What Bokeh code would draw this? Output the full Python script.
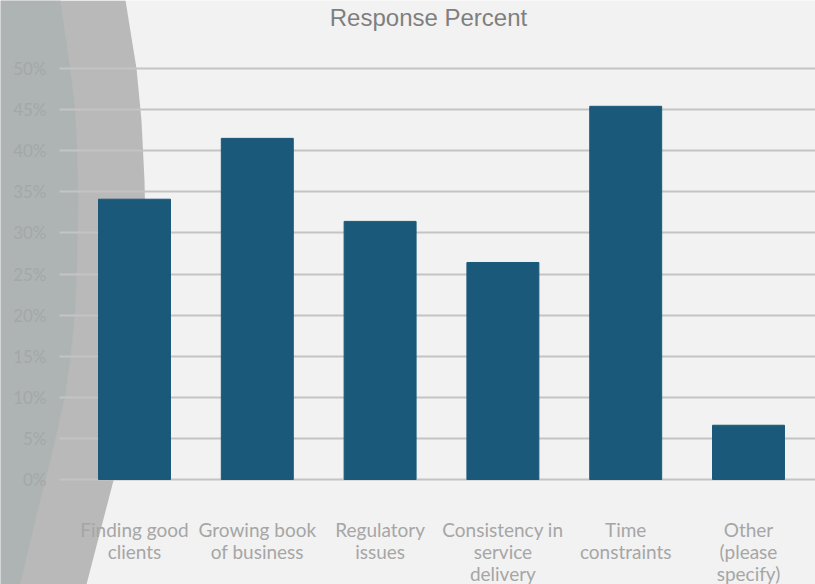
from bokeh.plotting import figure
from bokeh.models import Range1d, FixedTicker, PolyAnnotation, Label, Grid
from bokeh.core.properties import value
from bokeh.embed import file_html
from bokeh.resources import INLINE

categories = ["Finding good\nclients", "Growing book\nof business", "Regulatory\nissues",
              "Consistency in\nservice\ndelivery", "Time\nconstraints", "Other\n(please\nspecify)"]
values = [34.1, 41.5, 31.4, 26.4, 45.4, 6.6]
y_ticks = [0, 5, 10, 15, 20, 25, 30, 35, 40, 45, 50]
y_tick_labels = [f"{t}%" for t in y_ticks]

W, H = 815, 584
# layout in pixels (canvas coords, y down)
X0_CENTER, X_STEP = 134.0, 122.8      # first category centre, spacing
Y_ZERO, PX_PER_PCT = 479.0, 8.22      # baseline of 0 %, pixels per percent

def dx(X):
    return (X - X0_CENTER) / X_STEP
def dy(Y):
    return (Y_ZERO - Y) / PX_PER_PCT

xs = list(range(len(categories)))

p = figure(width=W, height=H, output_backend="svg", toolbar_location=None,
           x_range=Range1d(dx(0), dx(W)), y_range=Range1d(dy(H), dy(0)),
           min_border=0, x_axis_type=None, y_axis_type=None)
p.background_fill_color = "#f2f2f2"
p.border_fill_color = "#f2f2f2"
p.outline_line_color = None

# decorative background shape (screen units: x, H - y)
def sy(Y):
    return [H - y for y in Y]

outer_X = [0, 125, 136, 141, 144, 145, 143, 138, 130, 118, 113, 100, 86, 0]
outer_Y = [0, 0, 68, 120, 180, 230, 290, 350, 410, 465, 480, 530, 584, 584]
inner_X = [0, 60, 70, 75, 77, 78, 77, 75, 70, 65, 55, 40, 20, 0]
inner_Y = [0, 0, 68, 109, 150, 200, 260, 310, 360, 395, 440, 500, 584, 584]
p.add_layout(PolyAnnotation(xs=outer_X, ys=sy(outer_Y), xs_units="screen", ys_units="screen",
                            fill_color="#b8b9b8", fill_alpha=1, line_color=None, level="image"))
p.add_layout(PolyAnnotation(xs=inner_X, ys=sy(inner_Y), xs_units="screen", ys_units="screen",
                            fill_color="#aeb4b3", fill_alpha=1, line_color="#bcbebd",
                            line_width=1.5, level="image"))

# grid
grid = Grid(dimension=1, ticker=FixedTicker(ticks=y_ticks),
            grid_line_color="#c4c4c4", grid_line_width=2, level="underlay")
try:
    grid.cross_bounds = (dx(59), dx(W))
except Exception:
    pass
p.add_layout(grid, "center")

p.vbar(x=xs, top=values, width=0.586, color="#1b597a")

# y tick labels
p.text(x=[dx(46)] * len(y_ticks), y=y_ticks, text=y_tick_labels,
       text_font=value("Lato"), text_font_size="17px", text_color="#a3a8a7",
       text_align="right", text_baseline="middle")

# category labels
p.text(x=xs, y=[dy(517)] * len(xs), text=categories,
       text_font=value("Lato"), text_font_size="19px", text_color="#a6a6a6",
       text_align="center", text_baseline="top", text_line_height=0.97)

p.add_layout(Label(x=428, y=H - 17, x_units="screen", y_units="screen", text="Response Percent",
                   text_font="Liberation Sans", text_font_size="24px", text_color="#7f7f7f",
                   text_align="center", text_baseline="alphabetic"))

open("out.html", "w").write(file_html(p, INLINE))
